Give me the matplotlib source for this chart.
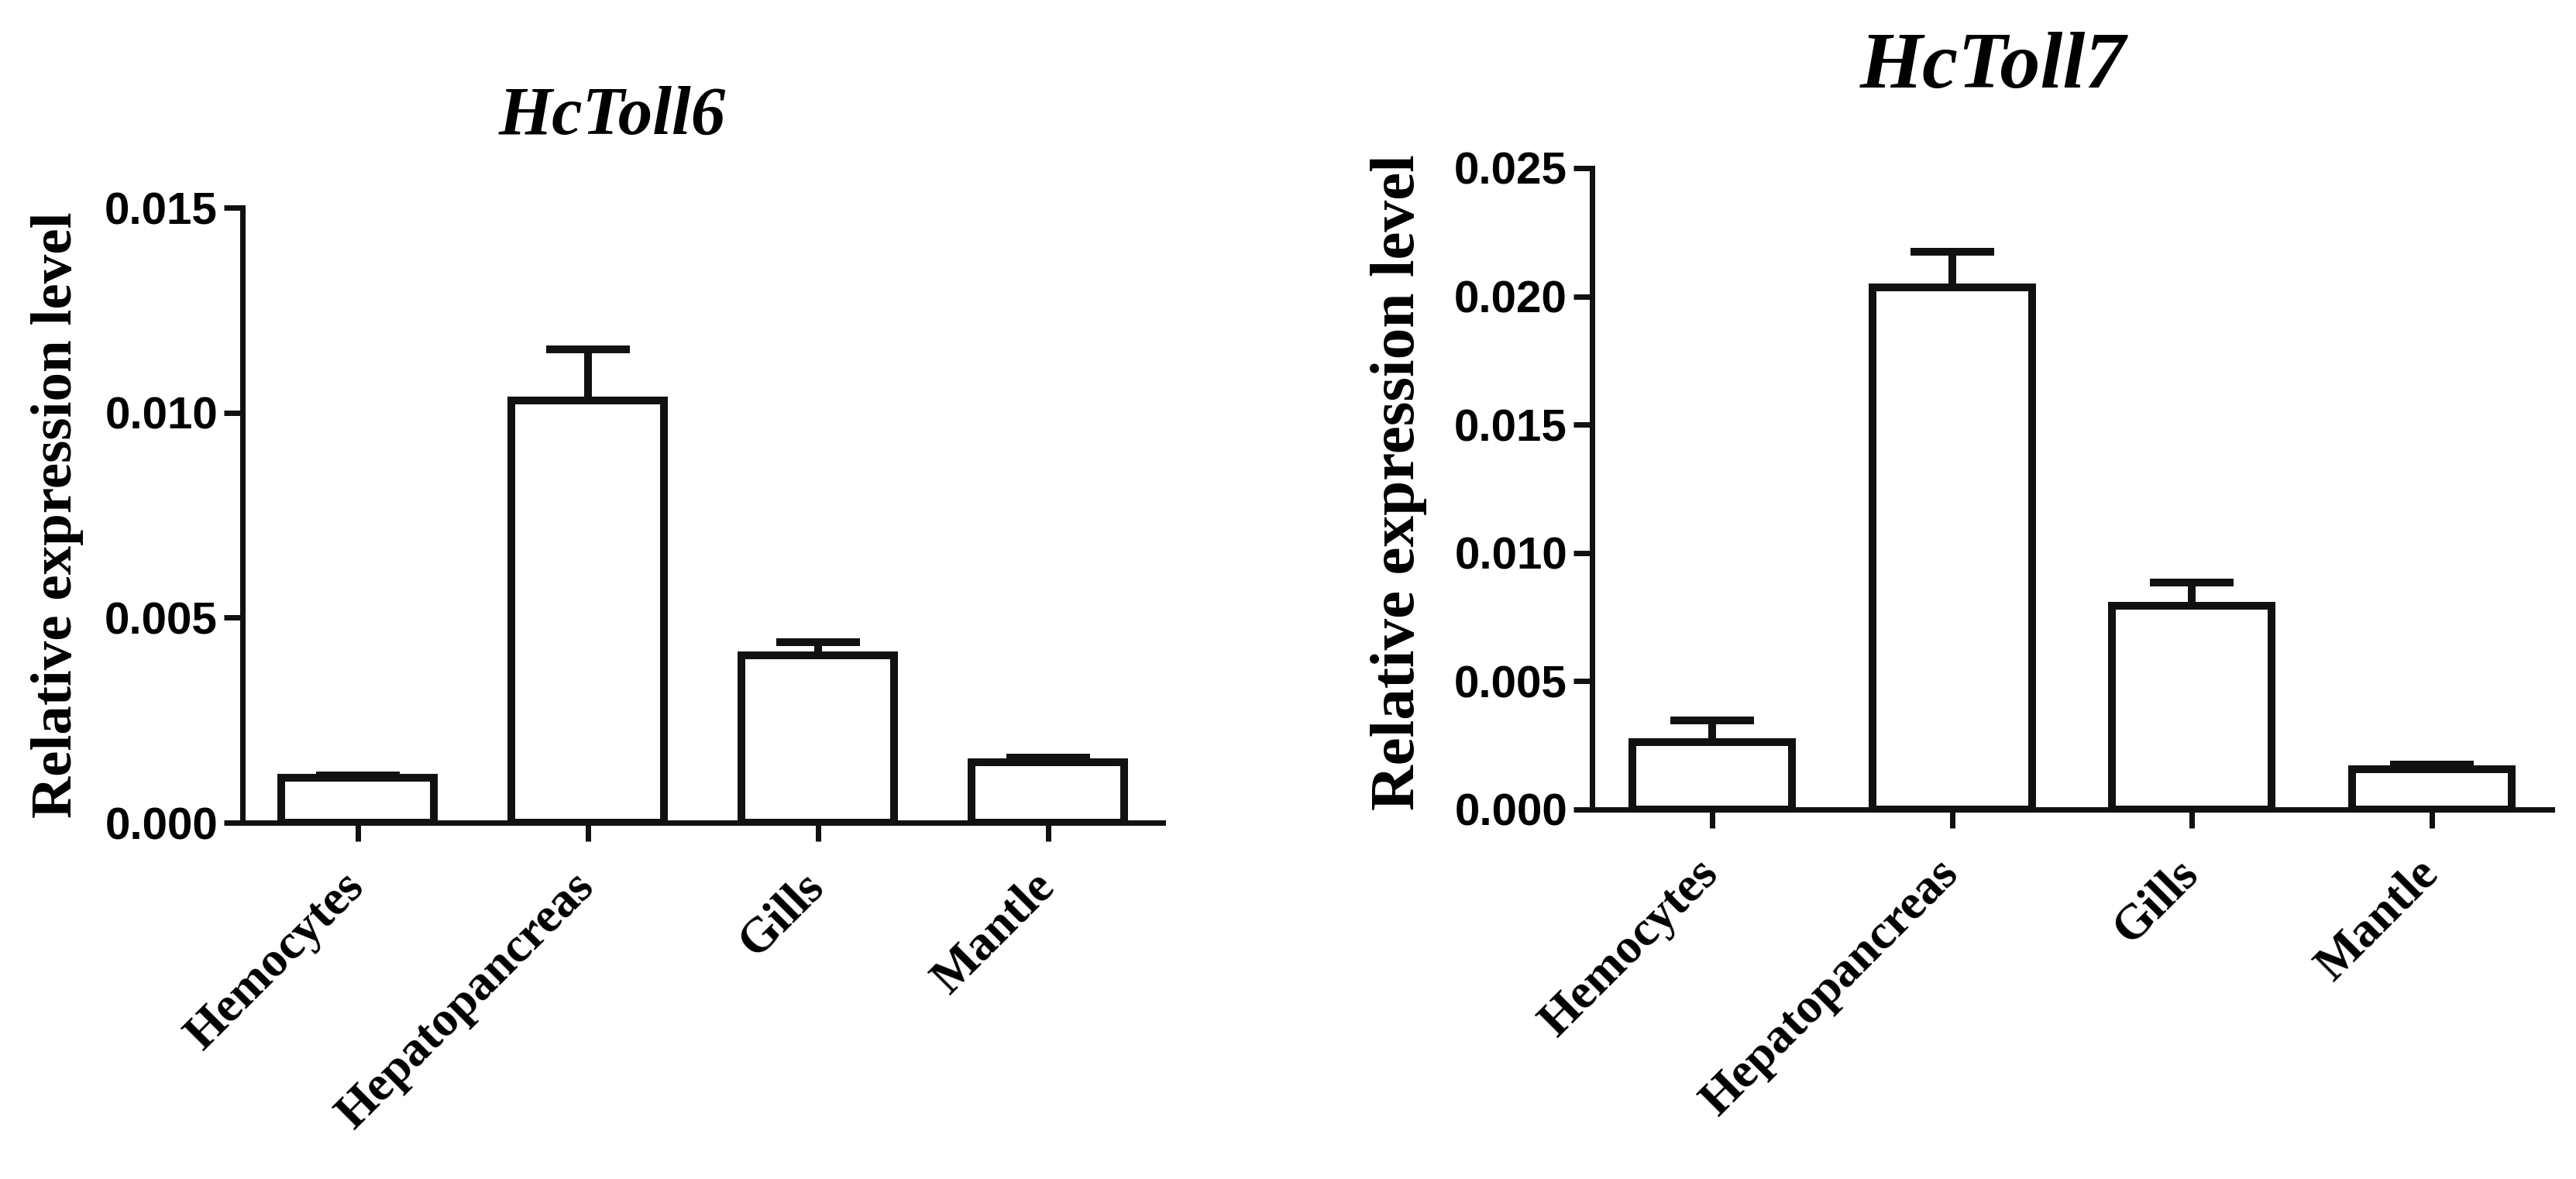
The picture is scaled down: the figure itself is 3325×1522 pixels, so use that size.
import matplotlib
matplotlib.use("Agg")
import matplotlib.pyplot as plt
from matplotlib.transforms import ScaledTranslation
import numpy as np

categories = ["Hemocytes", "Hepatopancreas", "Gills", "Mantle"]

toll6_values = [0.00110, 0.01030, 0.00408, 0.00148]
toll6_errors = [0.00005, 0.00124, 0.00032, 0.00010]
toll6_ticks = [0.000, 0.005, 0.010, 0.015]
toll6_ticklabels = ["0.000", "0.005", "0.010", "0.015"]

toll7_values = [0.00262, 0.02036, 0.00793, 0.00158]
toll7_errors = [0.00085, 0.00138, 0.00091, 0.00018]
toll7_ticks = [0.000, 0.005, 0.010, 0.015, 0.020, 0.025]
toll7_ticklabels = ["0.000", "0.005", "0.010", "0.015", "0.020", "0.025"]

titles = ["HcToll6", "HcToll7"]
ylabel = "Relative expression level"

W, H = 3325, 1522
DPI = 100
fig = plt.figure(figsize=(W / DPI, H / DPI), dpi=DPI)
fig.patch.set_facecolor("white")

SANS = "Liberation Sans"
SERIF = "Liberation Serif"


def px(v):
    return v * 72.0 / DPI


def make_panel(rect, values, errors, ticks, ticklabels, title, title_xy,
               ylab_size, ylab_y, ytick_size, xtick_size, title_size):
    ax = fig.add_axes(rect)
    x = np.arange(len(categories))
    ax.bar(x, values, width=0.665, facecolor="white", edgecolor="#111111",
           linewidth=px(10), zorder=2)
    ax.errorbar(x, values, yerr=[np.zeros(len(values)), errors], fmt="none",
                ecolor="#111111", elinewidth=px(10), capsize=px(54),
                capthick=px(10), zorder=3)
    ax.set_xlim(-0.5, 3.5)
    ax.set_ylim(ticks[0], ticks[-1])
    ax.set_yticks(ticks)
    ax.set_yticklabels(ticklabels, fontfamily=SANS, fontweight="bold",
                       fontsize=ytick_size)
    ax.set_xticks(x)
    ax.set_xticklabels(categories, fontfamily=SERIF, fontweight="bold",
                       fontsize=xtick_size, rotation=45, ha="right",
                       va="center", rotation_mode="anchor")
    offset = ScaledTranslation(px(24) / 72.0, 0, fig.dpi_scale_trans)
    for lab in ax.get_xticklabels():
        lab.set_transform(lab.get_transform() + offset)
    for s in ["top", "right"]:
        ax.spines[s].set_visible(False)
    for s in ["left", "bottom"]:
        ax.spines[s].set_linewidth(px(7))
        ax.spines[s].set_color("#111111")
        ax.spines[s].set_capstyle("projecting")
    ax.tick_params(axis="both", direction="out", length=px(24), width=px(7),
                   color="#111111")
    ax.tick_params(axis="y", pad=px(8))
    ax.tick_params(axis="x", pad=px(50))
    ax.set_ylabel(ylabel, fontfamily=SERIF, fontweight="bold",
                  fontsize=ylab_size, va="baseline")
    ax.yaxis.set_label_coords(-0.186, ylab_y)
    fig.text(title_xy[0] / W, 1 - title_xy[1] / H, title, fontfamily=SERIF,
             fontweight="bold", fontstyle="italic", fontsize=title_size,
             ha="center", va="baseline")
    return ax


# Left panel: axes from x 313..1501 px, y 268..1062 px
make_panel([313 / W, 1 - 1062 / H, (1501 - 313) / W, (1062 - 268) / H],
           toll6_values, toll6_errors, toll6_ticks, toll6_ticklabels,
           titles[0], (790, 173), 54, 0.5, 42, 46, 64)

# Right panel: axes from x 2055..3294 px, y 217..1045 px
make_panel([2055 / W, 1 - 1045 / H, (3294 - 2055) / W, (1045 - 217) / H],
           toll7_values, toll7_errors, toll7_ticks, toll7_ticklabels,
           titles[1], (2572, 113), 58.5, 0.51, 42, 46, 75)

fig.savefig("out.png", dpi=DPI, facecolor="white")
